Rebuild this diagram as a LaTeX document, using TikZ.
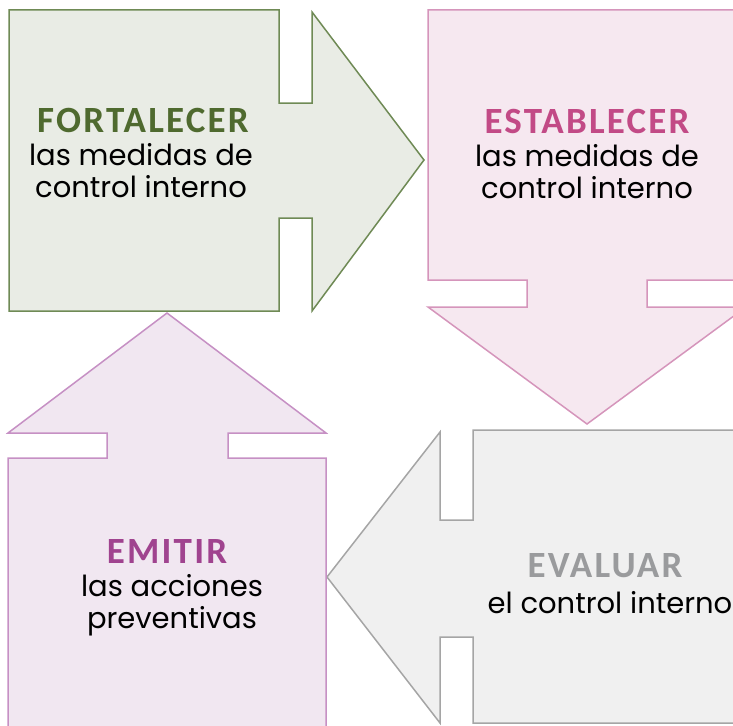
\documentclass[tikz,border=0pt]{standalone}
\usepackage{fontspec}
\setmainfont{Poppins}
\newfontfamily\headfont[LetterSpace=6]{Carlito Bold}
\usepackage{xcolor}
\usepackage{tikz}
\usetikzlibrary{positioning}
\definecolor{greenfill}{HTML}{E9ECE5}
\definecolor{greenline}{HTML}{6F8A55}
\definecolor{greentext}{HTML}{4F6A2F}
\definecolor{pinkfill}{HTML}{F6E8F0}
\definecolor{pinkline}{HTML}{D595BB}
\definecolor{pinktext}{HTML}{C24A86}
\definecolor{grayfill}{HTML}{F0F0F0}
\definecolor{grayline}{HTML}{A5A5A5}
\definecolor{graytext}{HTML}{9A9B9D}
\definecolor{lilacfill}{HTML}{F1E7F1}
\definecolor{lilacline}{HTML}{C690C4}
\definecolor{lilactext}{HTML}{A0438F}
\tikzset{
    step arrow/.style={line width=1.5pt, line join=miter},
    head text/.style={font=\headfont\fontsize{37}{37}\selectfont, inner sep=0pt, anchor=base},
    body text/.style={font=\fontsize{29}{32}\selectfont, align=center, inner sep=0pt, anchor=base, text=black}
}

\begin{document}
\begin{tikzpicture}[x=1pt, y=-1pt]
    \useasboundingbox (0,0) rectangle (733,725);
    \clip (0,0) rectangle (733,725);

    % fortalecer (right)
    \draw[step arrow, fill=greenfill, draw=greenline] (9,10) -- (279,10) -- (279,103) -- (312,103) -- (312,12)
        -- (424,160) -- (312,311) -- (312,218) -- (279,218) -- (279,311) -- (9,311) -- cycle;
    % establecer (down)
    \draw[step arrow, fill=pinkfill, draw=pinkline] (428,10) -- (746,10) -- (746,280) -- (647,280) -- (647,307)
        -- (746,307) -- (587,424) -- (428,307) -- (527,307) -- (527,280) -- (428,280) -- cycle;
    % evaluar (left)
    \draw[step arrow, fill=grayfill, draw=grayline] (473,430) -- (746,430) -- (746,723) -- (473,723) -- (473,637)
        -- (440,637) -- (440,723) -- (327,577) -- (440,432) -- (440,520) -- (473,520) -- cycle;
    % emitir (up)
    \draw[step arrow, fill=lilacfill, draw=lilacline] (8,458) -- (107,458) -- (107,433) -- (8,433) -- (167,313)
        -- (326,433) -- (228,433) -- (228,458) -- (326,458) -- (326,740) -- (8,740) -- cycle;

    \node[head text, text=greentext] (fortH) at (143,132) {FORTALECER};
    \node[body text] (fortB) at (141,197) {las medidas de\\control interno};

    \node[head text, text=pinktext] (estH) at (587,133) {ESTABLECER};
    \node[body text] (estB) at (587,198) {las medidas de\\control interno};

    \node[head text, text=graytext] (evaH) at (605,577) {EVALUAR};
    \node[body text] (evaB) at (610,613) {el control interno};

    \node[head text, text=lilactext] (emiH) at (167,563) {EMITIR};
    \node[body text] (emiB) at (172,628) {las acciones\\preventivas};
\end{tikzpicture}
\end{document}
